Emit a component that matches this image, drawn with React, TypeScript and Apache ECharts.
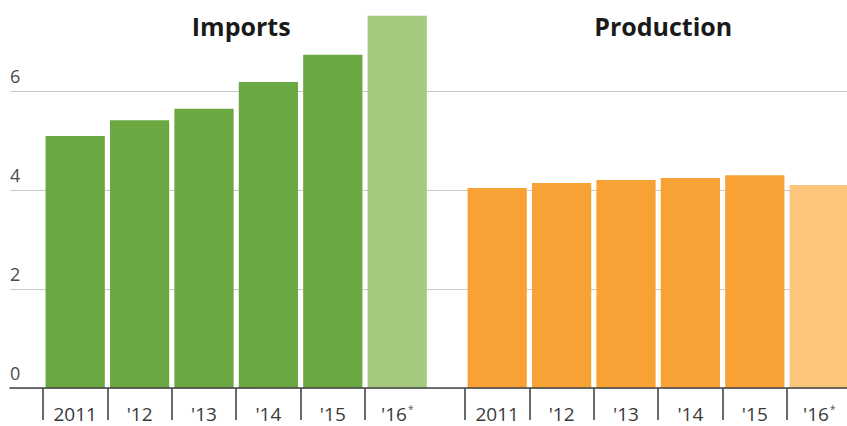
import React, { useEffect, useRef } from "react";
import * as echarts from "echarts";

const categories = ["2011", "'12", "'13", "'14", "'15", "'16*"];
const importsValues = [5.09, 5.41, 5.64, 6.18, 6.73, 7.52];
const productionValues = [4.04, 4.14, 4.2, 4.24, 4.3, 4.1];
const panelTitles = ["Imports", "Production"];
const importsColors = ["#6aa841", "#6aa841", "#6aa841", "#6aa841", "#6aa841", "#a5c97f"];
const productionColors = ["#f8a135", "#f8a135", "#f8a135", "#f8a135", "#f8a135", "#fbc57c"];
const yMin = 0;
const yMax = 8;
const yInterval = 2;

const FONT = "'Open Sans', sans-serif";

export default function App() {
  const ref = useRef<HTMLDivElement>(null);

  useEffect(() => {
    if (!ref.current) return;
    const chart = echarts.init(ref.current, null, { renderer: "svg" });

    const gridTop = -8;
    const gridHeight = 396;
    const band = 64.4;
    const panelWidth = band * categories.length;
    const panelLefts = [43, 465];

    const bandBoundaries = categories.map((_, i) => i);

    const labelFormatter = (v: string) =>
      v.endsWith("*") ? `{m|${v.slice(0, -1)}}{s|*}` : `{m|${v}}`;

    const catAxis = (gridIndex: number) => ({
      type: "category",
      gridIndex,
      data: categories,
      position: "bottom",
      boundaryGap: true,
      axisLine: { show: false },
      axisTick: { show: false },
      splitLine: { show: false },
      axisLabel: {
        interval: 0,
        hideOverlap: false,
        margin: 16,
        formatter: labelFormatter,
        rich: {
          m: { fontFamily: FONT, fontSize: 19, lineHeight: 19, color: "#3a3a3a" },
          s: { fontFamily: FONT, fontSize: 10, lineHeight: 19, color: "#555", verticalAlign: "top", padding: [0, 0, 8, 1] },
        },
      },
    });

    const tickAxis = (gridIndex: number) => ({
      type: "value",
      gridIndex,
      min: 0,
      max: categories.length,
      position: "bottom",
      axisLine: { show: false },
      axisLabel: { show: false },
      splitLine: { show: false },
      axisTick: {
        show: true,
        customValues: bandBoundaries,
        length: 32,
        lineStyle: { color: "#444", width: 1.6 },
      },
      z: 4,
    });

    const hiddenY = (gridIndex: number) => ({
      type: "value",
      gridIndex,
      min: yMin,
      max: yMax,
      interval: yInterval,
      show: false,
    });

    const gridBase = { top: gridTop, height: gridHeight, outerBoundsMode: "none", containLabel: false };

    const option: any = {
      animation: false,
      backgroundColor: "#ffffff",
      title: panelTitles.map((t, i) => ({
        text: t,
        left: panelLefts[i] + panelWidth / 2,
        top: 8,
        textAlign: "center",
        textStyle: { fontFamily: FONT, fontSize: 25, fontWeight: "bold", color: "#1a1a1a" },
      })),
      grid: [
        { ...gridBase, left: 10, right: 0 },
        { ...gridBase, left: panelLefts[0], width: panelWidth },
        { ...gridBase, left: panelLefts[1], width: panelWidth },
      ],
      xAxis: [
        {
          type: "value",
          gridIndex: 0,
          min: 0,
          max: 1,
          axisLine: { show: true, onZero: false, lineStyle: { color: "#444", width: 1.6 } },
          axisTick: { show: false },
          axisLabel: { show: false },
          splitLine: { show: false },
          z: 3,
        },
        catAxis(1),
        tickAxis(1),
        catAxis(2),
        tickAxis(2),
      ],
      yAxis: [
        {
          type: "value",
          gridIndex: 0,
          min: yMin,
          max: yMax,
          interval: yInterval,
          axisLine: { show: false },
          axisTick: { show: false },
          splitLine: { show: true, lineStyle: { color: "#c9c9c9", width: 1.2 } },
          axisLabel: {
            inside: true,
            margin: 0,
            verticalAlign: "bottom",
            padding: [0, 0, 6, 0],
            fontFamily: FONT,
            fontSize: 18,
            color: "#4a4a4a",
            formatter: (v: number) => (v >= yMax ? "" : String(v)),
          },
        },
        hiddenY(1),
        hiddenY(2),
      ],
      series: [
        {
          type: "bar",
          xAxisIndex: 1,
          yAxisIndex: 1,
          barCategoryGap: "8%",
          data: importsValues.map((v, i) => ({ value: v, itemStyle: { color: importsColors[i] } })),
          z: 2,
        },
        {
          type: "bar",
          xAxisIndex: 3,
          yAxisIndex: 2,
          barCategoryGap: "8%",
          data: productionValues.map((v, i) => ({ value: v, itemStyle: { color: productionColors[i] } })),
          z: 2,
        },
      ],
    };

    chart.setOption(option);
    return () => chart.dispose();
  }, []);

  return (
    <div
      ref={ref}
      style={{ position: "fixed", left: 0, top: 0, width: 847, height: 426, background: "#fff" }}
    />
  );
}
